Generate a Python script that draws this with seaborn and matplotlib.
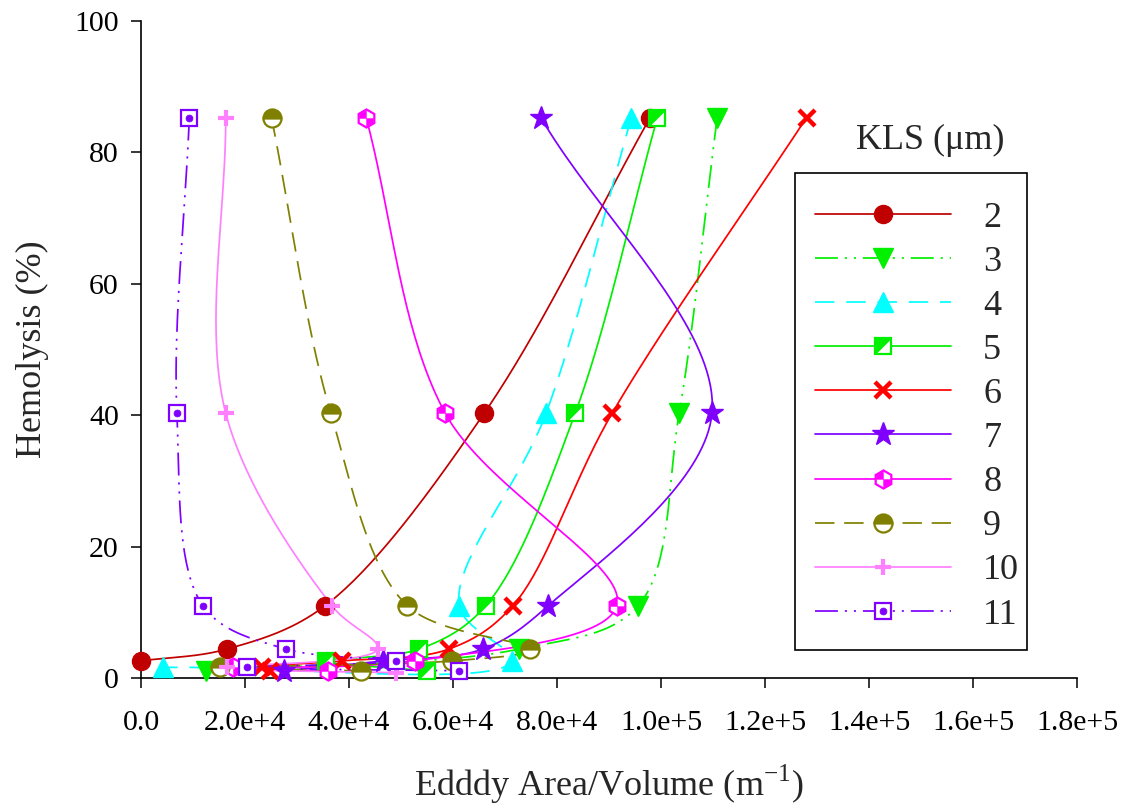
import numpy as np
import pandas as pd
import matplotlib
matplotlib.use("Agg")
import matplotlib.pyplot as plt
from matplotlib.lines import Line2D
from matplotlib.patches import Rectangle
import seaborn as sns

# ---- data: eddy area/volume (1/m) and hemolysis (%) for each KLS (um) ----
kls_labels = ["2", "3", "4", "5", "6", "7", "8", "9", "10", "11"]

x_2 = [97900, 66000, 35400, 16500, 0]
y_2 = [85.3, 40.3, 11.0, 4.4, 2.6]
x_3 = [110800, 103500, 95600, 72700, 12500]
y_3 = [85.3, 40.3, 11.0, 4.4, 1.1]
x_4 = [94300, 77900, 61200, 71300, 4200]
y_4 = [85.3, 40.3, 11.0, 2.6, 1.6]
x_5 = [99300, 83500, 66300, 53500, 35600, 55000]
y_5 = [85.3, 40.3, 11.0, 4.4, 2.6, 1.1]
x_6 = [128000, 90600, 71500, 59200, 38700, 23300, 24800]
y_6 = [85.3, 40.3, 11.0, 4.4, 2.6, 1.6, 1.1]
x_7 = [76900, 109800, 78300, 65700, 46600, 27500]
y_7 = [85.3, 40.3, 11.0, 4.4, 2.6, 1.1]
x_8 = [43300, 58500, 91500, 52600, 17700, 36000]
y_8 = [85.3, 40.3, 11.0, 2.6, 1.6, 1.1]
x_9 = [25100, 36500, 51200, 74800, 59800, 15200, 42300]
y_9 = [85.3, 40.3, 11.0, 4.4, 2.6, 1.6, 1.1]
x_10 = [16300, 16300, 36700, 45500, 16500, 49000]
y_10 = [85.3, 40.3, 11.0, 4.4, 1.6, 0.8]
x_11 = [9300, 6900, 11900, 27900, 49000, 20400, 61200]
y_11 = [85.3, 40.3, 11.0, 4.4, 2.6, 1.6, 1.1]

x_ticks = [0, 20000, 40000, 60000, 80000, 100000, 120000, 140000, 160000, 180000]
x_tick_labels = ["0.0", "2.0e+4", "4.0e+4", "6.0e+4", "8.0e+4", "1.0e+5",
                 "1.2e+5", "1.4e+5", "1.6e+5", "1.8e+5"]
y_ticks = [0, 20, 40, 60, 80, 100]

xs = [x_2, x_3, x_4, x_5, x_6, x_7, x_8, x_9, x_10, x_11]
ys = [y_2, y_3, y_4, y_5, y_6, y_7, y_8, y_9, y_10, y_11]

colors = {"2": "#C00000", "3": "#00F000", "4": "#00FFFF", "5": "#00F000",
          "6": "#FF0000", "7": "#8000FF", "8": "#FF00FF", "9": "#808000",
          "10": "#FF80FF", "11": "#8000FF"}
ddot = (16.5, 5, 1.5, 5, 1.5, 5)
dashes = {"2": "", "3": ddot, "4": (14, 8.5), "5": "", "6": "",
          "7": "", "8": "", "9": (14, 7), "10": "", "11": ddot}

XMAX, YMAX = 180000, 100
SX, SY = 936.0, 657.0  # axes size in pixels, used to smooth in screen space


def smooth_curve(px, py, n=40, alpha=0.5):
    """Centripetal Catmull-Rom spline through the points, in display proportions."""
    P = np.column_stack([np.asarray(px, float) / XMAX * SX,
                         np.asarray(py, float) / YMAX * SY])
    P = np.vstack([2 * P[0] - P[1], P, 2 * P[-1] - P[-2]])
    out = []
    for i in range(1, len(P) - 2):
        p0, p1, p2, p3 = P[i - 1], P[i], P[i + 1], P[i + 2]
        t0 = 0.0
        t1 = t0 + max(np.linalg.norm(p1 - p0), 1e-6) ** alpha
        t2 = t1 + max(np.linalg.norm(p2 - p1), 1e-6) ** alpha
        t3 = t2 + max(np.linalg.norm(p3 - p2), 1e-6) ** alpha
        t = np.linspace(t1, t2, n)[:, None]
        a1 = (t1 - t) / (t1 - t0) * p0 + (t - t0) / (t1 - t0) * p1
        a2 = (t2 - t) / (t2 - t1) * p1 + (t - t1) / (t2 - t1) * p2
        a3 = (t3 - t) / (t3 - t2) * p2 + (t - t2) / (t3 - t2) * p3
        b1 = (t2 - t) / (t2 - t0) * a1 + (t - t0) / (t2 - t0) * a2
        b2 = (t3 - t) / (t3 - t1) * a2 + (t - t1) / (t3 - t1) * a3
        c = (t2 - t) / (t2 - t1) * b1 + (t - t1) / (t2 - t1) * b2
        out.append(c if i == 1 else c[1:])
    C = np.vstack(out)
    return C[:, 0] / SX * XMAX, C[:, 1] / SY * YMAX


curve_rows = []
for lab, px, py in zip(kls_labels, xs, ys):
    cx, cy = smooth_curve(px, py)
    curve_rows.append(pd.DataFrame({"x": cx, "y": cy, "kls": lab,
                                    "order": np.arange(len(cx))}))
curves = pd.concat(curve_rows, ignore_index=True)

sns.set_theme(style="ticks")
plt.rcParams["font.family"] = ["Liberation Serif", "DejaVu Serif"]
plt.rcParams["lines.scale_dashes"] = False
plt.rcParams["mathtext.fontset"] = "custom"
plt.rcParams["mathtext.rm"] = "Liberation Serif"

fig = plt.figure(figsize=(11.29, 8.07), dpi=100)
ax = fig.add_axes([141 / 1129, 1 - 678 / 807, 936 / 1129, 657 / 807])

LW = 1.25
sns.lineplot(data=curves, x="x", y="y", hue="kls", style="kls",
             hue_order=kls_labels, style_order=kls_labels,
             palette=colors, dashes=dashes, sort=False, estimator=None,
             units="kls", linewidth=LW, legend=False, ax=ax)


# ---- marker styles (each is a list of overlaid marker layers) ----
def marker_layers(lab):
    c = colors[lab]
    if lab == "2":
        return [dict(marker="o", ms=13, mfc=c, mec=c, mew=1)]
    if lab == "3":
        return [dict(marker="v", ms=14, mfc=c, mec=c, mew=1)]
    if lab == "4":
        return [dict(marker="^", ms=14, mfc=c, mec=c, mew=1)]
    if lab == "5":
        return [dict(marker="s", ms=11.5, mfc="white", mec=c, mew=1.6),
                dict(marker=[(-1, -1), (-1, 1), (1, 1), (-1, -1)], ms=11.5,
                     mfc=c, mec=c, mew=0.5)]
    if lab == "6":
        return [dict(marker="x", ms=11, mec=c, mew=3.2)]
    if lab == "7":
        return [dict(marker="*", ms=17, mfc=c, mec=c, mew=1)]
    if lab == "8":
        return [dict(marker="h", ms=13, mfc="white", mec=c, mew=1.6),
                dict(marker=[(0, 0), (0, 1), (-0.87, 0.5), (-0.87, 0), (0, 0)],
                     ms=11.5, mfc=c, mec=c, mew=0.3),
                dict(marker=[(0, 0), (0, -1), (0.87, -0.5), (0.87, 0), (0, 0)],
                     ms=11.5, mfc=c, mec=c, mew=0.3)]
    if lab == "9":
        return [dict(marker="o", ms=13, mfc=c, mfcalt="white", fillstyle="top",
                     mec=c, mew=1.6)]
    if lab == "10":
        return [dict(marker="+", ms=12, mec=c, mew=3)]
    if lab == "11":
        return [dict(marker="s", ms=12, mfc="white", mec=c, mew=1.6),
                dict(marker="o", ms=5, mfc=c, mec=c, mew=0.5)]


def layer_kws(d):
    kw = dict(marker=d["marker"], markersize=d["ms"], markeredgecolor=d["mec"],
              markeredgewidth=d["mew"])
    if "mfc" in d:
        kw["markerfacecolor"] = d["mfc"]
    if "mfcalt" in d:
        kw["markerfacecoloralt"] = d["mfcalt"]
    if "fillstyle" in d:
        kw["fillstyle"] = d["fillstyle"]
    return kw


for lab, px, py in zip(kls_labels, xs, ys):
    for d in marker_layers(lab):
        ax.plot(px, py, linestyle="none", zorder=4, clip_on=False, **layer_kws(d))

ax.set_xlim(0, XMAX)
ax.set_ylim(0, YMAX)
ax.set_xticks(x_ticks)
ax.set_xticklabels(x_tick_labels)
ax.set_yticks(y_ticks)
ax.set_yticklabels([str(v) for v in y_ticks])
sns.despine(ax=ax)
for s in ("left", "bottom"):
    ax.spines[s].set_linewidth(1.2)
    ax.spines[s].set_color("black")
ax.tick_params(axis="x", direction="out", length=7, width=1.1, pad=16,
               labelsize=21.5, colors="black")
ax.tick_params(axis="y", direction="out", length=7, width=1.1, pad=9,
               labelsize=21.5, colors="black")
ax.set_xlabel("Edddy Area/Volume (m$^{-1}$)", fontsize=26, labelpad=19)
ax.set_ylabel("Hemolysis (%)", fontsize=26, labelpad=18)

# ---- legend ----
handles = []
for lab in kls_labels:
    c = colors[lab]
    line = Line2D([], [], color=c, linewidth=LW)
    if dashes[lab] != "":
        line.set_dashes(dashes[lab])
    parts = [line]
    for d in marker_layers(lab):
        parts.append(Line2D([], [], linestyle="none", **layer_kws(d)))
    handles.append(tuple(parts))

leg = ax.legend(handles, kls_labels, loc="upper left",
                bbox_to_anchor=(799 / 1129, 1 - 185 / 807),
                bbox_transform=fig.transFigure, fontsize=26, frameon=False,
                handlelength=3.75, handletextpad=0.9, labelspacing=0.3,
                borderpad=0.45, borderaxespad=0, numpoints=1)
# legend box outline
fig.patches.append(Rectangle((795 / 1129, 1 - 650 / 807), 232 / 1129, 477 / 807,
                             transform=fig.transFigure, fill=False,
                             edgecolor="black", linewidth=1.2, zorder=5))
fig.text(930 / 1129, 1 - 140 / 807, "KLS (μm)", fontsize=26, ha="center",
         va="center")

fig.savefig("out.png", dpi=100)
